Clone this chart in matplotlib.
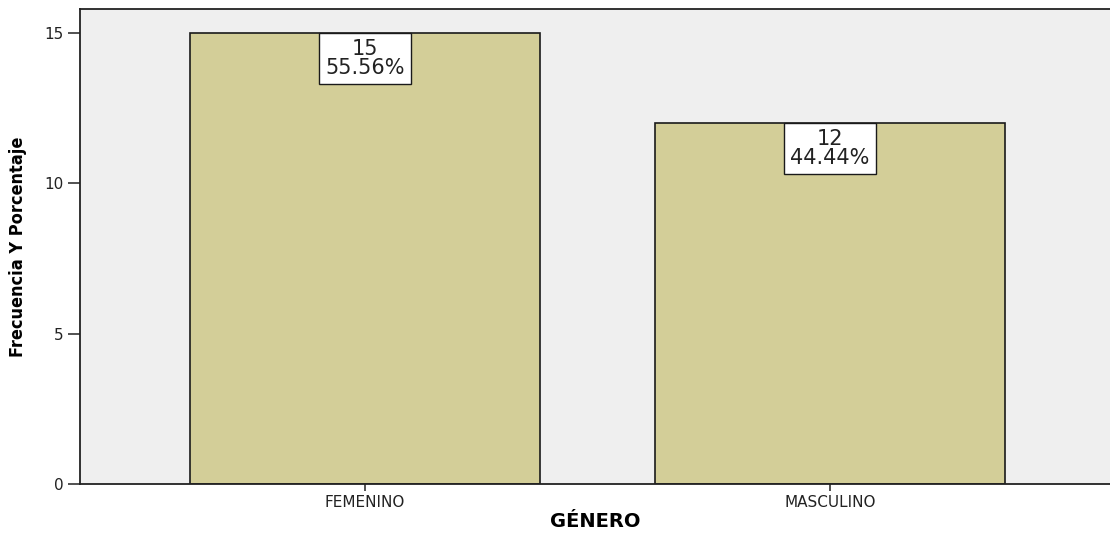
import numpy as np
import matplotlib.pyplot as plt

# Data
categorias = ['FEMENINO', 'MASCULINO']
frecuencias = [15, 12]
porcentajes = [55.56, 44.44]

plt.rcParams['font.family'] = ['DejaVu Sans']

fig = plt.figure(figsize=(11.1, 5.33), dpi=100)
ax = fig.add_axes([0.0721, 0.0919, 0.9279, 0.8911])
ax.set_facecolor('#efefef')

x = np.arange(len(categorias))
ax.bar(x, frecuencias, width=0.753, color='#d3ce98', edgecolor='#1a1a1a', linewidth=1.2, zorder=2)

for xi, f, p in zip(x, frecuencias, porcentajes):
    ax.text(xi, f - 0.22, f'{f}\n{p:.2f}%', ha='center', va='top', fontsize=15,
            linespacing=0.92, color='#222222', zorder=3,
            bbox=dict(boxstyle='square,pad=0.3', fc='white', ec='#1a1a1a', lw=1.0))

ax.set_xlim(-0.613, 1.602)
ax.set_ylim(0, 15.78)
ax.set_xticks(x)
ax.set_xticklabels(categorias, fontsize=11)
ax.set_yticks([0, 5, 10, 15])
ax.tick_params(axis='y', labelsize=11, length=9, width=1.2, pad=3, color='#333333', labelcolor='#222222')
ax.tick_params(axis='x', length=5, width=1.2, pad=3, color='#333333', labelcolor='#222222')

ax.spines['right'].set_visible(False)
for s in ['left', 'top', 'bottom']:
    ax.spines[s].set_color('#222222')
    ax.spines[s].set_linewidth(1.3)

ax.set_xlabel('GÉNERO', fontsize=14, fontweight='bold', labelpad=1)
ax.set_ylabel('Frecuencia Y Porcentaje', fontsize=13, fontweight='bold', labelpad=12,
              fontstretch='condensed')

fig.savefig('out.png', dpi=100)
